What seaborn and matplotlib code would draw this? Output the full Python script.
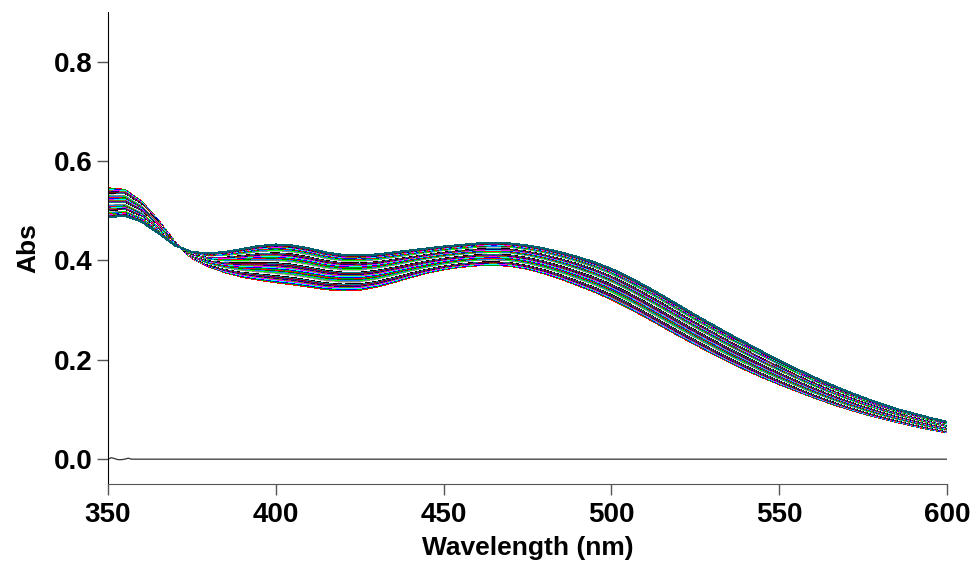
import numpy as np
import pandas as pd
import matplotlib
matplotlib.use("Agg")
import matplotlib.pyplot as plt
import seaborn as sns

# wavelength grid (nm)
wavelength = [350, 355, 360, 365, 370, 375, 380, 385, 390, 395,
              400, 405, 410, 415, 420, 425, 430, 435, 440, 445,
              450, 455, 460, 465, 470, 475, 480, 485, 490, 495,
              500, 505, 510, 515, 520, 525, 530, 535, 540, 545,
              550, 555, 560, 565, 570, 575, 580, 585, 590, 595, 600]

# first scan (red, lowest past the isosbestic point)
abs_first = [0.545, 0.542, 0.518, 0.480, 0.436, 0.405, 0.388, 0.376, 0.367, 0.361,
             0.356, 0.352, 0.347, 0.342, 0.340, 0.341, 0.347, 0.356, 0.366, 0.375,
             0.382, 0.387, 0.390, 0.391, 0.389, 0.383, 0.374, 0.363, 0.350, 0.337,
             0.322, 0.305, 0.287, 0.268, 0.249, 0.231, 0.213, 0.196, 0.180, 0.165,
             0.151, 0.138, 0.125, 0.113, 0.102, 0.092, 0.083, 0.075, 0.067, 0.060, 0.054]

# last scan (top of the band past the isosbestic point)
abs_last = [0.487, 0.490, 0.478, 0.455, 0.430, 0.417, 0.414, 0.417, 0.423, 0.429,
            0.432, 0.430, 0.424, 0.416, 0.411, 0.410, 0.412, 0.416, 0.420, 0.424,
            0.428, 0.431, 0.434, 0.435, 0.434, 0.430, 0.424, 0.416, 0.407, 0.396,
            0.383, 0.367, 0.349, 0.330, 0.310, 0.290, 0.271, 0.252, 0.234, 0.216,
            0.199, 0.182, 0.166, 0.151, 0.137, 0.124, 0.112, 0.101, 0.092, 0.083, 0.075]

# how far each scan has moved from the first to the last spectrum
scan_progress = [0.000, 0.020, 0.040, 0.060, 0.080, 0.100, 0.120, 0.140, 0.160, 0.180,
                 0.200, 0.220, 0.240, 0.260, 0.280, 0.300, 0.320, 0.340, 0.360, 0.380,
                 0.400, 0.420, 0.440, 0.460, 0.480, 0.500, 0.520, 0.540, 0.560, 0.580,
                 0.600, 0.615, 0.630, 0.645, 0.660, 0.675, 0.690, 0.705, 0.720, 0.735,
                 0.750, 0.765, 0.780, 0.795, 0.810, 0.825, 0.840, 0.855, 0.870, 0.885,
                 0.900, 0.910, 0.920, 0.930, 0.940, 0.950, 0.960, 0.970, 0.980, 0.990, 1.000]

# blank baseline
wavelength_base = [350, 351, 352, 353, 354, 355, 356, 357, 358, 360, 600]
abs_base = [0.0, 0.003, 0.001, -0.001, -0.001, 0.0, 0.002, 0.0, 0.0, 0.0, 0.0]

line_colors = ['#ff0000', '#00a000', '#0000ff', '#00ffff', '#ff00ff', '#808000',
               '#000080', '#800080', '#800000', '#008080', '#000000', '#ffffff',
               '#c0c0c0', '#808080', '#00ff00', '#0080ff', '#006400']

# tabela long-form dla seaborna
first = np.array(abs_first)
last = np.array(abs_last)
rows = []
for i, p in enumerate(scan_progress):
    spec = first + p * (last - first)
    for w, a in zip(wavelength, spec):
        rows.append({'wavelength': w, 'abs': a, 'scan': i})
df = pd.DataFrame(rows)
palette = [line_colors[i % len(line_colors)] for i in range(len(scan_progress))]
palette[-1] = '#006070'

sns.set_style('ticks')
plt.rcParams['font.family'] = ['Liberation Sans', 'DejaVu Sans']
plt.rcParams['text.color'] = 'black'
plt.rcParams['axes.labelcolor'] = 'black'
plt.rcParams['xtick.labelcolor'] = 'black'
plt.rcParams['ytick.labelcolor'] = 'black'

fig = plt.figure(figsize=(9.74, 5.63), dpi=100)
ax = fig.add_axes([0.1109, 0.1403, 0.8614, 0.8384])

sns.lineplot(data=df, x='wavelength', y='abs', hue='scan', palette=palette,
             estimator=None, sort=False, legend=False, linewidth=0.8,
             antialiased=False, ax=ax)
sns.lineplot(x=wavelength_base, y=abs_base, color='#333333', linewidth=0.9,
             estimator=None, sort=False, ax=ax)

ax.set_xlim(350, 600)
ax.set_ylim(-0.05, 0.9)
ax.set_xticks([350, 400, 450, 500, 550, 600])
ax.set_yticks([0.0, 0.2, 0.4, 0.6, 0.8])
ax.set_yticklabels(['0.0', '0.2', '0.4', '0.6', '0.8'])
ax.set_xlabel('Wavelength (nm)', fontsize=19, fontweight='bold', labelpad=6)
ax.set_ylabel('Abs', fontsize=19, fontweight='bold', labelpad=10)
ax.tick_params(axis='x', labelsize=20, length=8, width=1, color='#555555', pad=5)
ax.tick_params(axis='y', labelsize=20, length=8, width=1, color='#555555', pad=3)
for lab in ax.get_xticklabels() + ax.get_yticklabels():
    lab.set_fontweight('bold')

sns.despine(ax=ax)
ax.spines['left'].set_color('black')
ax.spines['bottom'].set_color('#555555')

fig.savefig('out.png', dpi=100)
